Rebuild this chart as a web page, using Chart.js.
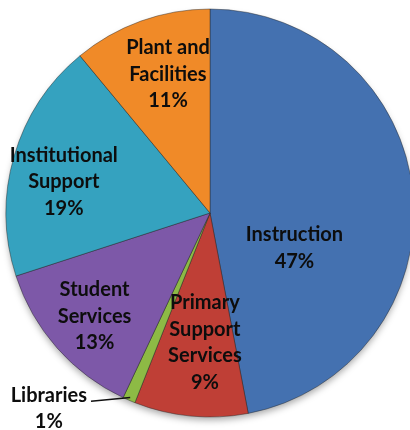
<!DOCTYPE html>
<html>
<head>
<meta charset="utf-8">
<script src="https://cdn.jsdelivr.net/npm/chart.js@4.4.1/dist/chart.umd.min.js"></script>
<style>
  html, body { margin: 0; padding: 0; background: #fff; overflow: hidden; }
  .chart-wrap { position: relative; width: 420px; height: 430px; }
</style>
</head>
<body>
<div class="chart-wrap"><canvas id="spend"></canvas></div>
<script>
// ── Spending by function (share of total, %) ───────────────
const categories = ['Instruction', 'Primary\nSupport\nServices', 'Libraries', 'Student\nServices', 'Institutional\nSupport', 'Plant and\nFacilities'];
const shares = [47, 9, 1, 13, 19, 11];
const baseColors = ['#4471B0', '#BF3F36', '#8DBA45', '#7D58A8', '#35A2BF', '#F08A28'];

// label anchors, as fractions of the radius from the pie centre
const labelOffsets = [[0.414, 0.172], [-0.025, 0.635], [-0.79, 0.958], [-0.566, 0.507], [-0.717, -0.152], [-0.206, -0.681]];
const outsideLabels = [false, false, true, false, false, false];

function shade(hex, amt) {
  const n = parseInt(hex.slice(1), 16);
  const f = v => Math.max(0, Math.min(255, Math.round(v + amt * (amt > 0 ? 255 - v : v))));
  return `rgb(${f(n >> 16)},${f((n >> 8) & 255)},${f(n & 255)})`;
}

// soft bevel: flat body, lighter rim, darker outer edge
function sliceFill(ctx) {
  const arc = ctx.element;
  if (!arc || !arc.outerRadius) return baseColors[ctx.dataIndex];
  const { x, y, outerRadius } = arc.getProps(['x', 'y', 'outerRadius'], true);
  const base = baseColors[ctx.dataIndex];
  const g = ctx.chart.ctx.createRadialGradient(x, y, 0, x, y, outerRadius);
  g.addColorStop(0, shade(base, -0.08));
  g.addColorStop(0.86, base);
  g.addColorStop(0.95, shade(base, 0.1));
  g.addColorStop(0.985, shade(base, -0.05));
  g.addColorStop(1, shade(base, -0.3));
  return g;
}

// drop shadow under the whole pie
const pieShadow = {
  id: 'pieShadow',
  beforeDatasetsDraw(chart) {
    const arc = chart.getDatasetMeta(0).data[0];
    if (!arc) return;
    const { x, y, outerRadius } = arc.getProps(['x', 'y', 'outerRadius'], true);
    const c = chart.ctx;
    c.save();
    c.shadowColor = 'rgba(0,0,0,0.35)';
    c.shadowBlur = 7;
    c.shadowOffsetY = 4;
    c.fillStyle = '#666';
    c.beginPath();
    c.arc(x, y, outerRadius - 1, 0, Math.PI * 2);
    c.fill();
    c.restore();
  }
};

const sliceLabels = {
  id: 'sliceLabels',
  afterDatasetsDraw(chart) {
    const c = chart.ctx;
    const lineH = 26.5;
    chart.getDatasetMeta(0).data.forEach((arc, i) => {
      const { x, y, outerRadius, startAngle, endAngle } =
        arc.getProps(['x', 'y', 'outerRadius', 'startAngle', 'endAngle'], true);
      const lines = categories[i].split('\n').concat(shares[i] + '%');
      const cx = x + labelOffsets[i][0] * outerRadius;
      const cy = y + labelOffsets[i][1] * outerRadius;
      const top = cy - (lines.length - 1) * lineH / 2;
      c.save();
      c.font = 'bold 20px Lato, "DejaVu Sans", sans-serif';
      c.fillStyle = '#0d0d0d';
      c.textAlign = 'center';
      c.textBaseline = 'middle';
      lines.forEach((t, k) => c.fillText(t, cx, top + k * lineH));
      if (outsideLabels[i]) {
        const w = c.measureText(lines[0]).width;
        const mid = (startAngle + endAngle) / 2;
        c.strokeStyle = '#111';
        c.lineWidth = 1.5;
        c.beginPath();
        c.moveTo(cx + w / 2 + 4, top + 6);
        c.lineTo(x + Math.cos(mid) * outerRadius * 0.985, y + Math.sin(mid) * outerRadius * 0.985);
        c.stroke();
      }
      c.restore();
    });
  }
};

new Chart(document.getElementById('spend'), {
  type: 'pie',
  data: {
    labels: categories,
    datasets: [{
      data: shares,
      backgroundColor: sliceFill,
      borderColor: 'rgba(40,40,40,0.45)',
      borderWidth: 1,
      hoverOffset: 0,
      radius: 204
    }]
  },
  options: {
    responsive: true, maintainAspectRatio: false,
    animation: false,
    layout: { padding: { left: 6, right: 6, top: 9, bottom: 13 } },
    plugins: { legend: { display: false }, tooltip: { enabled: false } }
  },
  plugins: [pieShadow, sliceLabels]
});
</script>
</body>
</html>
